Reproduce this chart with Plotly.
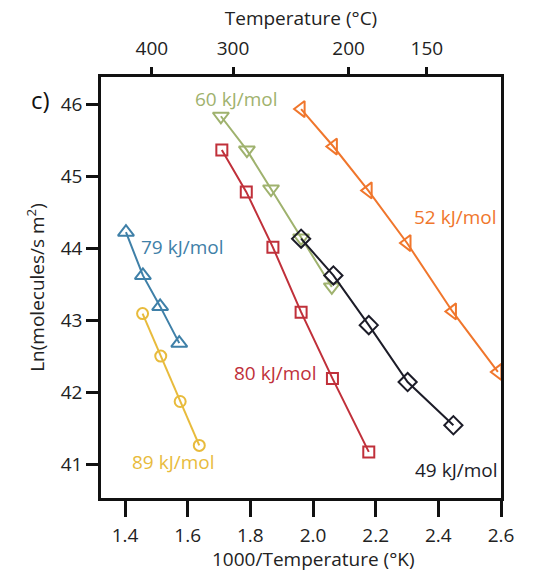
import plotly.graph_objects as go

# ---- data ----
x_79 = [1.403, 1.457, 1.512, 1.573]
y_79 = [44.22, 43.62, 43.19, 42.68]

x_89 = [1.456, 1.514, 1.576, 1.637]
y_89 = [43.09, 42.50, 41.87, 41.26]

x_60 = [1.706, 1.789, 1.866, 1.962, 2.060]
y_60 = [45.83, 45.36, 44.82, 44.14, 43.46]

x_80 = [1.709, 1.787, 1.872, 1.962, 2.062, 2.178]
y_80 = [45.36, 44.78, 44.01, 43.11, 42.19, 41.17]

x_49 = [1.962, 2.065, 2.178, 2.302, 2.448]
y_49 = [44.13, 43.62, 42.93, 42.14, 41.54]

x_52 = [1.962, 2.065, 2.176, 2.300, 2.445, 2.590]
y_52 = [45.93, 45.41, 44.80, 44.07, 43.12, 42.28]

top_tick_celsius = [400, 300, 200, 150]
bottom_ticks = [1.4, 1.6, 1.8, 2.0, 2.2, 2.4, 2.6]
left_ticks = [41, 42, 43, 44, 45, 46]

labels = ["60 kJ/mol", "79 kJ/mol", "89 kJ/mol", "80 kJ/mol", "52 kJ/mol", "49 kJ/mol"]
label_x = [1.755, 1.585, 1.555, 1.880, 2.454, 2.457]
label_y = [46.07, 44.02, 41.03, 42.26, 44.43, 40.92]

C_BLUE = "#3f80a8"
C_YEL = "#e8bb3c"
C_GRN = "#9fb26e"
C_RED = "#c0303a"
C_BLK = "#1c1c28"
C_ORG = "#f0762c"
label_colors = [C_GRN, C_BLUE, C_YEL, C_RED, C_ORG, C_BLK]

FONT = "Open Sans"
FS = 19

fig = go.Figure()

def add(xs, ys, color, symbol, size):
    fig.add_trace(go.Scatter(
        x=xs, y=ys, mode="lines+markers",
        line=dict(color=color, width=2),
        marker=dict(symbol=symbol, size=size, color=color,
                    line=dict(color=color, width=2)),
        showlegend=False, cliponaxis=False))

add(x_89, y_89, C_YEL, "circle-open", 11)
add(x_79, y_79, C_BLUE, "triangle-up-open", 14)
add(x_60, y_60, C_GRN, "triangle-down-open", 14)
add(x_80, y_80, C_RED, "square-open", 11)
add(x_52, y_52, C_ORG, "triangle-left-open", 14)
add(x_49, y_49, C_BLK, "diamond-open", 14)

# invisible trace on top axis so it renders
top_vals = [1000.0 / (t + 273.15) for t in top_tick_celsius]
fig.add_trace(go.Scatter(x=[top_vals[0]], y=[44], xaxis="x2", mode="markers",
                         marker=dict(opacity=0), showlegend=False, hoverinfo="skip"))

xr = [1.3233, 2.6]
fig.update_layout(
    width=551, height=575,
    margin=dict(l=101, r=50, t=77, b=77),
    paper_bgcolor="white", plot_bgcolor="white",
    font=dict(family=FONT, size=FS, color="#222"),
    xaxis=dict(range=xr, tickvals=bottom_ticks, ticktext=[f"{v:.1f}" for v in bottom_ticks],
               showline=True, linecolor="#111", linewidth=2.5, mirror=True,
               ticks="outside", ticklen=16, tickwidth=2.5, tickcolor="#111",
               ticklabelstandoff=2, tickfont=dict(size=FS),
               showgrid=False, zeroline=False),
    xaxis2=dict(range=xr, overlaying="x", side="top", tickvals=top_vals,
                ticktext=[str(t) for t in top_tick_celsius],
                showline=False, ticks="outside", ticklen=9, tickwidth=2.5, tickcolor="#111",
                ticklabelstandoff=4, tickfont=dict(size=FS),
                showgrid=False, zeroline=False,
                title=dict(text="Temperature (°C)", standoff=4, font=dict(size=FS))),
    yaxis=dict(range=[40.53, 46.375], tickvals=left_ticks,
               showline=True, linecolor="#111", linewidth=2.5, mirror=True,
               ticks="outside", ticklen=12, tickwidth=2.5, tickcolor="#111",
               tickfont=dict(size=FS),
               showgrid=False, zeroline=False,
               title=dict(text="Ln(molecules/s m<sup>2</sup>)", standoff=12, font=dict(size=FS))),
)

# bottom axis title (placed as annotation for exact vertical position)
fig.add_annotation(xref="paper", yref="paper", x=(313 - 101) / 400, y=-(559 - 498) / 421,
                   xanchor="center", yanchor="middle", text="1000/Temperature (°K)",
                   showarrow=False, font=dict(family=FONT, size=FS, color="#222"))

for t, x, y, c in zip(labels, label_x, label_y, label_colors):
    fig.add_annotation(x=x, y=y, xref="x", yref="y", text=t, showarrow=False,
                       font=dict(family=FONT, size=FS, color=c))

fig.add_annotation(xref="paper", yref="paper", x=(40 - 101) / 400, y=1 - (100 - 77) / 421,
                   xanchor="center", yanchor="middle", text="c)", showarrow=False,
                   font=dict(family=FONT, size=24, color="#111"))

fig.write_html("out.html")
